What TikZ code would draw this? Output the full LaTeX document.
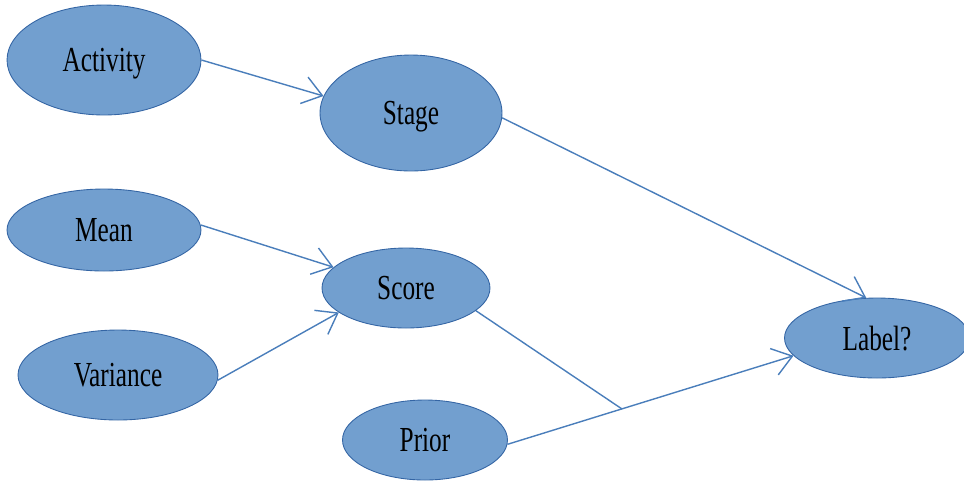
\documentclass[tikz,border=0pt]{standalone}
\usepackage{fontspec}
\setmainfont[FakeStretch=0.72]{Liberation Serif}
\usetikzlibrary{shapes.geometric,arrows.meta,calc}
\definecolor{nodefill}{HTML}{729FCF}
\definecolor{nodeline}{HTML}{3465A4}
\definecolor{edgeline}{HTML}{4A7EBB}
\begin{document}
\begin{tikzpicture}[x=0.02cm,y=-0.02cm,font=\fontsize{20}{24}\selectfont,
    var/.style={ellipse,draw=nodeline,fill=nodefill,inner sep=0pt,text depth=0pt,line width=0.5pt},
    edge/.style={draw=edgeline,line width=0.8pt,-{Straight Barb[length=0.38cm,width=0.55cm]}}]

      \useasboundingbox (0,0) rectangle (964,485);

      % input variables
      \node [var,minimum width=3.88cm,minimum height=2.2cm] (act) at (104,60) {Activity};
      \node [var,minimum width=3.88cm,minimum height=1.64cm] (mean) at (104,230) {Mean};
      \node [var,minimum width=4.0cm,minimum height=1.8cm] (var) at (118,375) {Variance};

      % middle layer
      \node [var,minimum width=3.64cm,minimum height=2.32cm] (stage) at (411,113) {Stage};
      \node [var,minimum width=3.36cm,minimum height=1.6cm] (score) at (406,288) {Score};
      \node [var,minimum width=3.3cm,minimum height=1.6cm] (prior) at (425,440) {Prior};

      % output
      \node [var,minimum width=3.7cm,minimum height=1.6cm] (lab) at (877,338) {Label?};

      \draw [edge] (act.east) -- (stage.169);
      \draw [edge] (mean.3) -- (score.164);
      \draw [edge] (var.-3) -- (score.200);
      \draw [edge] (stage.-3) -- (lab.105);
      \draw [edge] (prior.-3) -- (lab.192);

      \coordinate (join) at ($(prior.-3)!0.4!(lab.192)$);
      \draw [draw=edgeline,line width=0.8pt] (score.-18) -- (join);

\end{tikzpicture}
\end{document}
